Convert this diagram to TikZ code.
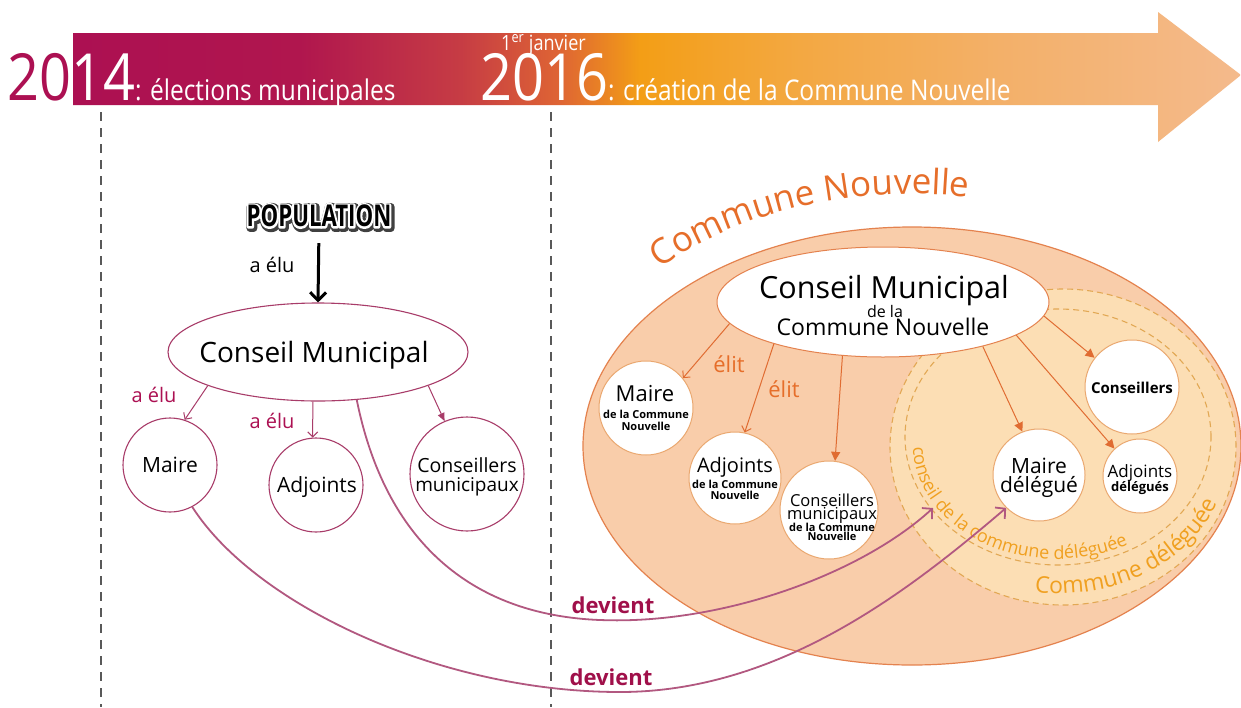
\documentclass[tikz,border=0pt]{standalone}
\usepackage{fontspec}
\setmainfont{Open Sans}
\newfontfamily\bannerfont{Open Sans}[FakeStretch=0.86]
\newfontfamily\popfont{Open Sans}[FakeStretch=0.74]
\usetikzlibrary{arrows.meta,decorations.text,shapes.geometric}
\definecolor{b0}{RGB}{172,16,82}
\definecolor{b1}{RGB}{176,22,78}
\definecolor{b2}{RGB}{198,60,68}
\definecolor{b3}{RGB}{222,100,52}
\definecolor{b4}{RGB}{243,158,22}
\definecolor{b5}{RGB}{243,168,66}
\definecolor{b6}{RGB}{243,176,105}
\definecolor{b7}{RGB}{244,186,140}
\pgfdeclarehorizontalshading{bannershade}{100bp}{color(0bp)=(b0); color(25bp)=(b0); color(34.7bp)=(b1); color(41.6bp)=(b2); color(45.8bp)=(b3); color(49.3bp)=(b4); color(56.1bp)=(b5); color(64.7bp)=(b6); color(75bp)=(b7); color(100bp)=(b7)}
\definecolor{crim}{RGB}{172,16,82}
\definecolor{crimline}{RGB}{168,60,105}
\definecolor{devline}{RGB}{178,88,128}
\definecolor{devtxt}{RGB}{160,16,74}
\definecolor{peach}{RGB}{249,205,170}
\definecolor{peachborder}{RGB}{228,130,78}
\definecolor{yel}{RGB}{252,222,180}
\definecolor{yeldash}{RGB}{226,168,84}
\definecolor{orangetxt}{RGB}{230,110,42}
\definecolor{goldtxt}{RGB}{240,160,32}
\definecolor{arrowor}{RGB}{224,108,50}
\definecolor{circborder}{RGB}{234,168,112}
\newcommand\myfs[2]{\fontsize{#1}{#2}\selectfont}
\newcommand\strokeon[1]{\special{pdf:code #1 w 1 j 1 J 1 Tr}}
\newcommand\strokeoff{\special{pdf:code 0 Tr}}
\begin{document}
\begin{tikzpicture}[x=1pt,y=1pt,
  txt/.style={inner sep=0pt, anchor=base, text=black},
  leftcirc/.style={circle, draw=crimline, line width=1.1pt, fill=white, inner sep=0pt},
  rightcirc/.style={circle, draw=circborder, line width=1pt, fill=white, inner sep=0pt},
  crimarrow/.style={draw=crimline, line width=1pt, -{Straight Barb[length=5pt,width=10pt]}},
  crimarrowfill/.style={draw=crimline, line width=1pt, -{Triangle[length=8pt,width=7pt]}},
  orarrow/.style={draw=arrowor, line width=1pt, -{Straight Barb[length=5pt,width=10pt]}},
  orarrowfill/.style={draw=arrowor, line width=1pt, -{Triangle[length=9pt,width=9pt]}},
  devarrow/.style={draw=devline, line width=1.8pt, -{Straight Barb[length=7pt,width=15pt]}},
  vdash/.style={draw=black!65, line width=1.2pt, dash pattern=on 9pt off 7pt},
  ydash/.style={draw=yeldash, line width=1.1pt, dash pattern=on 6pt off 4pt},
  popword/.style={inner sep=0pt, font=\popfont\bfseries\myfs{30}{32}},
  redlbl/.style={inner sep=0pt, text=crim, font=\myfs{20}{22}},
  elit/.style={inner sep=0pt, text=orangetxt, font=\myfs{22}{24}},
  devlbl/.style={inner sep=0pt, text=devtxt, font=\bfseries\myfs{22}{24}}
]
\useasboundingbox (0,0) rectangle (1241,-707);
\fill[white] (0,0) rectangle (1241,-707);

% ---- timeline banner
\shade[shading=bannershade] (73,-33) -- (1158,-33) -- (1158,-12) -- (1241,-75) -- (1158,-142) -- (1158,-105) -- (73,-105) -- cycle;
\node[inner sep=0pt, anchor=base west] (y14) at (7,-100) {\bannerfont\myfs{65}{65}\textcolor{crim}{20}\textcolor{white}{14}\myfs{28.5}{28}\textcolor{white}{: élections municipales}};
\node[inner sep=0pt, anchor=base west, text=white] (jan) at (501,-50) {\bannerfont\myfs{21}{21}1\textsuperscript{er} janvier};
\node[inner sep=0pt, anchor=base west, text=white] (y16) at (480,-100) {\bannerfont\myfs{65}{65}2016\myfs{28.5}{28}: création de la Commune Nouvelle};

% ---- dashed separators
\draw[vdash] (101,-112) -- (101,-707);
\draw[vdash] (551,-112) -- (551,-707);

% ---- right: Commune Nouvelle
\path[fill=peach, draw=peachborder, line width=1.2pt] (912,-446) ellipse [x radius=329, y radius=219];
\path[decorate, decoration={text along path, text color=orangetxt, text={|\myfs{35}{38}|Commune Nouvelle}}] (659.7,-268.2) arc[start angle=135.3, end angle=60, x radius=355, y radius=250];
\path[fill=yel] (1063,-447) ellipse [x radius=173, y radius=158];
\draw[ydash] (1063,-447) ellipse [x radius=173, y radius=158];
\draw[ydash] (1058,-437) ellipse [x radius=153, y radius=128];
\path[decorate, decoration={text along path, text color=goldtxt, text={|\myfs{18}{20}|conseil de la commune déléguée}}] (913,-447) arc[start angle=181, end angle=340, x radius=144, y radius=114];
\path[decorate, decoration={text along path, text color=goldtxt, text={|\myfs{23}{25}|Commune déléguée}}] (1034.6,-592) arc[start angle=262, end angle=370, x radius=170, y radius=139];

\node[ellipse, draw=peachborder, line width=1pt, fill=white, minimum width=332pt, minimum height=110pt, inner sep=0pt] (cmR) at (883,-302) {};
\node[txt, font=\myfs{30.5}{31}] (cmRa) at (884,-298) {Conseil Municipal};
\node[txt, font=\myfs{16}{16}] (cmRb) at (885,-317) {de la};
\node[txt, font=\myfs{23}{24}] (cmRc) at (883,-335) {Commune Nouvelle};

\node[rightcirc, minimum size=94pt] (maireCN) at (646,-408) {};
\node[txt, font=\myfs{22}{22}] (maireCNa) at (645,-401) {Maire};
\node[txt, font=\bfseries\myfs{11}{11}] (maireCNb) at (646,-418) {de la Commune};
\node[txt, font=\bfseries\myfs{11}{11}] (maireCNc) at (646,-430) {Nouvelle};

\node[rightcirc, minimum size=92pt] (adjCN) at (735,-478) {};
\node[txt, font=\myfs{20}{20}] (adjCNa) at (735,-472) {Adjoints};
\node[txt, font=\bfseries\myfs{11}{11}] (adjCNb) at (735,-488) {de la Commune};
\node[txt, font=\bfseries\myfs{11}{11}] (adjCNc) at (735,-499) {Nouvelle};

\node[rightcirc, minimum size=98pt] (consCN) at (829,-510) {};
\node[txt, font=\myfs{16.5}{17}] (consCNa) at (832,-506) {Conseillers};
\node[txt, font=\myfs{16.5}{17}] (consCNb) at (832,-519) {municipaux};
\node[txt, font=\bfseries\myfs{11}{11}] (consCNc) at (832,-531) {de la Commune};
\node[txt, font=\bfseries\myfs{11}{11}] (consCNd) at (832,-540) {Nouvelle};

\node[rightcirc, minimum size=94pt] (consD) at (1132,-387) {};
\node[txt, font=\bfseries\myfs{15}{15}] (consDa) at (1132,-393) {Conseillers};

\node[rightcirc, minimum size=92pt] (mdel) at (1039,-475) {};
\node[txt, font=\myfs{21}{21}] (mdela) at (1039,-473) {Maire};
\node[txt, font=\myfs{21}{21}] (mdelb) at (1039,-492) {délégué};

\node[rightcirc, minimum size=74pt] (adel) at (1140,-476) {};
\node[txt, font=\myfs{17}{17}] (adela) at (1140,-477) {Adjoints};
\node[txt, font=\bfseries\myfs{13}{13}] (adelb) at (1140,-491) {délégués};

\draw[orarrow] (cmR.188) -- (maireCN.39);
\draw[orarrow] (cmR.201) -- (adjCN.78);
\draw[orarrowfill] (cmR.233) -- (consCN.83);
\draw[orarrowfill] (cmR.-24) -- (mdel.111);
\draw[orarrowfill] (cmR.-14) -- (adel.133);
\draw[orarrowfill] (cmR.-5) -- (consD.142);
\node[elit] (elit1) at (729,-364) {élit};
\node[elit] (elit2) at (784,-389) {élit};

% ---- left: 2014
\node[popword, text=black!75] (popG) at (320.5,-217.5) {\strokeon{7.5}POPULATION\strokeoff};
\node[popword, text=white] (popW) at (319,-216) {\strokeon{4}POPULATION\strokeoff};
\node[popword, text=black] (pop) at (319,-216) {POPULATION};

\node[ellipse, draw=crimline, line width=1.1pt, fill=white, minimum width=300pt, minimum height=98pt, inner sep=0pt] (cmL) at (318,-352) {};
\node[txt, font=\myfs{28}{30}] (cmLt) at (314,-362) {Conseil Municipal};
\draw[line width=3pt, -{Straight Barb[length=8pt,width=16pt]}, shorten <=16pt] (pop.south) -- (cmL.north);
\node[inner sep=0pt, font=\myfs{20}{22}] (aelu0) at (272,-265) {a élu};

\node[leftcirc, minimum size=94pt] (maireL) at (170,-465) {};
\node[txt, font=\myfs{21}{21}] (maireLt) at (170,-472) {Maire};
\node[leftcirc, minimum size=94pt] (adjL) at (316,-485) {};
\node[txt, font=\myfs{21}{21}] (adjLt) at (317,-492) {Adjoints};
\node[leftcirc, minimum size=114pt] (consL) at (467,-474) {};
\node[txt, font=\myfs{19.5}{20}] (consLa) at (467,-472) {Conseillers};
\node[txt, font=\myfs{19}{20}] (consLb) at (467,-491) {municipaux};

\draw[crimarrow] (cmL.197) -- (maireL.72);
\draw[crimarrow] (cmL.264) -- (adjL.94);
\draw[crimarrowfill] (cmL.-17) -- (consL.113);
\node[redlbl] (aelu1) at (154,-395) {a élu};
\node[redlbl] (aelu2) at (272,-421) {a élu};

% ---- devient connectors
\coordinate (cdl) at (933,-508);
\draw[devarrow] (cmL.-51) .. controls (385,-540) and (470,-615) .. (600,-620) .. controls (720,-625) and (860,-575) .. (cdl);
\draw[devarrow] (maireL.-62) .. controls (255,-605) and (440,-692) .. (620,-692) .. controls (780,-692) and (910,-590) .. (mdel.225);
\node[devlbl] (dev1) at (613,-605) {devient};
\node[devlbl] (dev2) at (611,-677) {devient};
\end{tikzpicture}
\end{document}
